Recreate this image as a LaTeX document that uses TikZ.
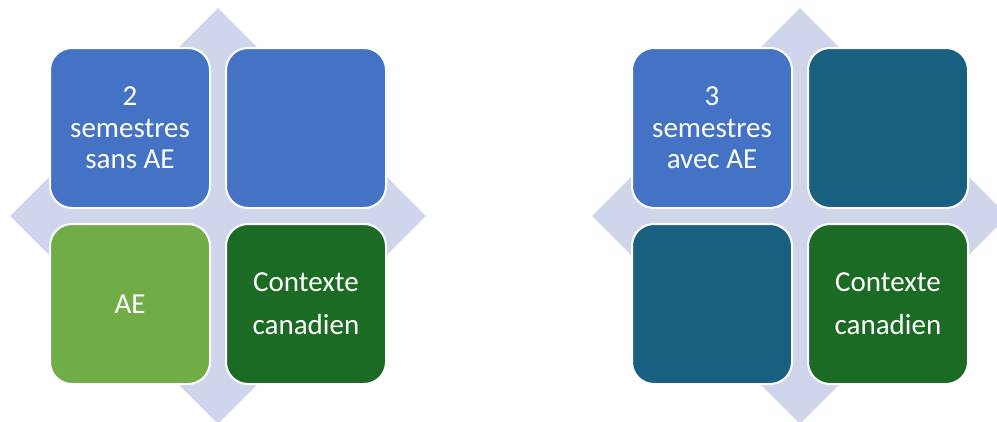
\documentclass[tikz,border=0pt]{standalone}
\usepackage{fontspec}
\setmainfont{Carlito}
\usepackage{xcolor}
\usepackage{tikz}
\usetikzlibrary{
    shapes.geometric,
    positioning
}
\definecolor{smblue}{HTML}{4472C4}
\definecolor{smgreen}{HTML}{70AD47}
\definecolor{smdark}{HTML}{1B6B24}
\definecolor{smteal}{HTML}{17607F}
\definecolor{smback}{HTML}{CFD5EA}
\tikzset{backdrop/.style={
    diamond,
    fill=smback,
    draw=none,
    minimum width=416pt,
    minimum height=416pt,
    inner sep=0pt,
}}
\tikzset{tile/.style={
    draw=white,
    line width=2pt,
    minimum height=160pt,
    minimum width=160pt,
    rounded corners=22pt,
    text=white,
    align=center,
    font=\fontsize{29}{31.5}\selectfont,
}}
\tikzset{bluetile/.style={tile, fill=smblue}}
\tikzset{greentile/.style={tile, fill=smgreen}}
\tikzset{darktile/.style={tile, fill=smdark, font=\fontsize{29}{43}\selectfont}}
\tikzset{tealtile/.style={tile, fill=smteal}}
\begin{document}
\begin{tikzpicture}[
                x=1pt, y=1pt,
                node distance=0pt
        ]
            \useasboundingbox (0,0) rectangle (997,-421);
            % left matrix
            \node[backdrop] (bg1) at (218,-216) {};
            \node[bluetile, above left=7pt and 7pt of bg1.center] (sem2) {2\\semestres\\sans AE};
            \node[bluetile, above right=7pt and 7pt of bg1.center] (blank1) {};
            \node[greentile, below left=7pt and 7pt of bg1.center] (ae) {AE};
            \node[darktile, below right=7pt and 7pt of bg1.center] (ctx1) {Contexte\\canadien};

            % right matrix
            \node[backdrop] (bg2) at (800,-216) {};
            \node[bluetile, above left=7pt and 7pt of bg2.center] (sem3) {3\\semestres\\avec AE};
            \node[tealtile, above right=7pt and 7pt of bg2.center] (blank2) {};
            \node[tealtile, below left=7pt and 7pt of bg2.center] (blank3) {};
            \node[darktile, below right=7pt and 7pt of bg2.center] (ctx2) {Contexte\\canadien};

        \end{tikzpicture}
\end{document}
